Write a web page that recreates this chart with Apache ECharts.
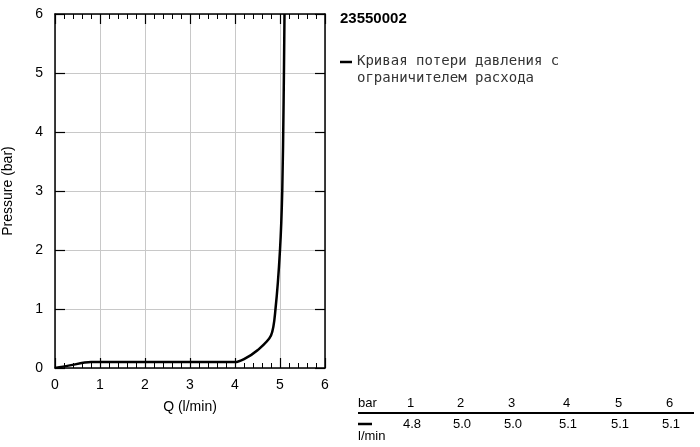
<!DOCTYPE html>
<html><head><meta charset="utf-8">
<script src="https://cdn.jsdelivr.net/npm/echarts@6/dist/echarts.min.js"></script>
<style>html,body{margin:0;padding:0;background:#fff}#c{width:700px;height:447px}</style>
</head><body><div id="c"></div>
<script>
// curve: flow Q (l/min) vs pressure (bar)
var flowQ    = [0, 0.3, 0.8, 1.5, 4.0, 4.2, 4.5, 4.8, 4.9, 5.0, 5.05, 5.08, 5.1];
var pressure = [0, 0.04, 0.1, 0.1, 0.1, 0.15, 0.3, 0.55, 1.0, 2.0, 3.0, 4.5, 6.0];
var tableBar  = ['1', '2', '3', '4', '5', '6'];
var tableFlow = ['4.8', '5.0', '5.0', '5.1', '5.1', '5.1'];
var seriesName = 'Кривая потери давления с\nограничителем расхода';

var chart = echarts.init(document.getElementById('c'));
var font = 'Liberation Sans';
function axisBase(extra) {
    var a = {
        type: 'value', min: 0, max: 6, interval: 1,
        axisLine: {show: true, onZero: false, lineStyle: {color: '#000', width: 1.5}},
        axisTick: {show: true, inside: true, length: 10, lineStyle: {color: '#000', width: 1.2}},
        splitLine: {show: false}
    };
    for (var k in extra) a[k] = extra[k];
    return a;
}
var cols = [407, 457, 508, 563, 615, 666];
var graphics = [
    {type: 'text', left: 340, top: 11, style: {text: '23550002', font: 'bold 15px ' + font, fill: '#000'}},
    {type: 'line', shape: {x1: 340, y1: 62, x2: 352, y2: 62}, style: {stroke: '#000', lineWidth: 2.5}},
    {type: 'text', left: 357, top: 53, style: {text: seriesName, font: '14px "DejaVu Sans Mono"', fill: '#333', lineHeight: 17}},
    {type: 'text', left: 358, top: 397, style: {text: 'bar', font: '13px ' + font, fill: '#000'}},
    {type: 'line', shape: {x1: 358, y1: 413, x2: 694, y2: 413}, style: {stroke: '#000', lineWidth: 2}},
    {type: 'line', shape: {x1: 358, y1: 424, x2: 372, y2: 424}, style: {stroke: '#000', lineWidth: 2.5}},
    {type: 'text', left: 358, top: 430, style: {text: 'l/min', font: '13px ' + font, fill: '#000'}}
];
tableBar.forEach(function (b, i) {
    graphics.push({type: 'text', left: cols[i], top: 397, style: {text: b, font: '13px ' + font, fill: '#000'}});
    graphics.push({type: 'text', left: cols[i] - 4, top: 418, style: {text: tableFlow[i], font: '13px ' + font, fill: '#000'}});
});

chart.setOption({
    animation: false,
    grid: {left: 54, right: 375, top: 14, bottom: 79},
    graphic: graphics,
    xAxis: [
        axisBase({
            position: 'bottom',
            name: 'Q (l/min)', nameLocation: 'middle', nameGap: 32,
            nameTextStyle: {color: '#000', fontSize: 14, fontFamily: font},
            axisLabel: {color: '#000', fontSize: 14, fontFamily: font, margin: 10},
            minorTick: {show: true, splitNumber: 5, length: 5, lineStyle: {color: '#000'}},
            splitLine: {show: true, lineStyle: {color: '#c8c8c8'}}
        }),
        axisBase({
            position: 'top', axisLabel: {show: false},
            minorTick: {show: true, splitNumber: 5, length: 5, lineStyle: {color: '#000'}}
        })
    ],
    yAxis: [
        axisBase({
            position: 'left',
            name: 'Pressure (bar)', nameLocation: 'middle', nameGap: 40,
            nameTextStyle: {color: '#000', fontSize: 14, fontFamily: font},
            axisLabel: {color: '#000', fontSize: 14, fontFamily: font, margin: 12},
            splitLine: {show: true, lineStyle: {color: '#c8c8c8'}}
        }),
        axisBase({position: 'right', axisLabel: {show: false}})
    ],
    series: [{
        type: 'line', name: seriesName, smooth: 0.3, symbol: 'none',
        lineStyle: {color: '#000', width: 2.5},
        data: flowQ.map(function (q, i) { return [q, pressure[i]]; })
    }, {
        type: 'line', xAxisIndex: 1, yAxisIndex: 1, symbol: 'none', data: [], silent: true
    }]
});
</script></body></html>
